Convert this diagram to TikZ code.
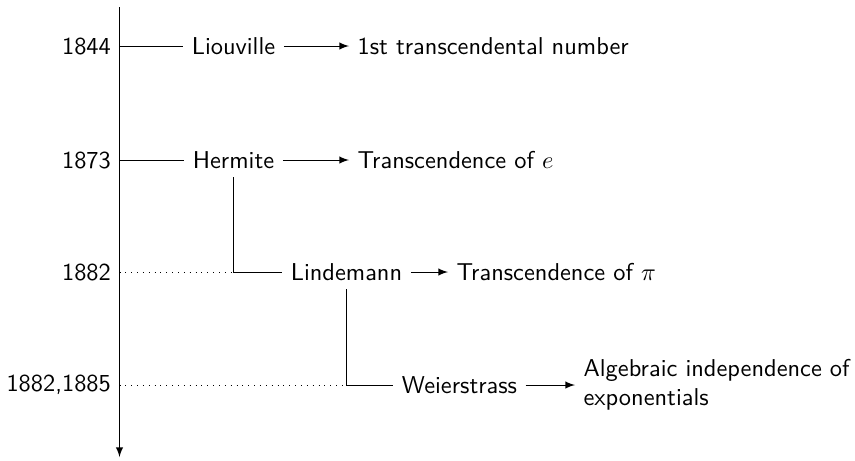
\documentclass[tikz,border=0pt]{standalone}
\begin{document}
\begin{tikzpicture}[x=0.41pt,y=-0.41pt, font=\sffamily,
  yr/.style={anchor=east},
  res/.style={anchor=west},
  who/.style={},
  arr/.style={-latex},
  tl/.style={dotted}]
\useasboundingbox (0,0) rectangle (855,460);
\coordinate (top) at (119.5,7);
\coordinate (bot) at (119.5,457);
\draw[-latex] (top) -- (bot);
% years
\node[yr] (y1) at (119.5,46) {1844};
\node[yr] (y2) at (119.5,160) {1873};
\node[yr] (y3) at (119.5,272) {1882};
\node[yr] (y4) at (119.5,385) {1882,1885};
% people
\node[who] (liou) at (233.5,46) {Liouville};
\node[who] (herm) at (233.5,160) {Hermite};
\node[who] (lind) at (346.5,272) {Lindemann};
\node[who] (weier) at (459.5,385) {Weierstrass};
% results
\node[res] (r1) at (349,46) {1st transcendental number};
\node[res] (r2) at (349,160) {Transcendence of $e$};
\node[res] (r3) at (448,272) {Transcendence of $\pi$};
\node[res, align=left] (r4) at (575,385) {Algebraic independence of\\exponentials};
% connectors
\draw (y1.east) -- (liou.west);
\draw (y2.east) -- (herm.west);
\draw[arr] (liou.east) -- (r1.west);
\draw[arr] (herm.east) -- (r2.west);
\draw[arr] (lind.east) -- (r3.west);
\draw[arr] (weier.east) -- (r4.west);
\draw (herm.south) |- (lind.west);
\draw (lind.south) |- (weier.west);
\draw[tl] (y3.east) -- (herm.south |- y3.east);
\draw[tl] (y4.east) -- (lind.south |- y4.east);
\end{tikzpicture}
\end{document}
